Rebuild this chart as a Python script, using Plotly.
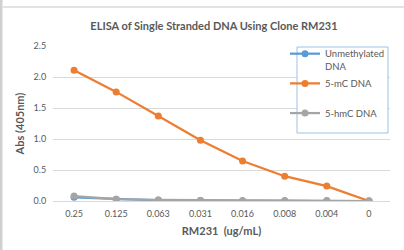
import plotly.graph_objects as go

categories = ["0.25", "0.125", "0.063", "0.031", "0.016", "0.008", "0.004", "0"]
unmethylated = [0.06, 0.03, 0.01, 0.01, 0.00, 0.00, 0.00, 0.00]
mc = [2.11, 1.76, 1.37, 0.98, 0.645, 0.40, 0.24, 0.00]
hmc = [0.08, 0.03, 0.02, 0.01, 0.01, 0.01, 0.01, 0.00]
y_ticks = [0.0, 0.5, 1.0, 1.5, 2.0, 2.5]
y_ticktext = ["0.0", "0.5", "1.0", "1.5", "2.0", "2.5"]

FONT = "Lato, 'Open Sans', sans-serif"
TXT = "#595959"

W, H = 404, 250
L, R, T, B = 53, 14, 46, 49
pw, ph = W - L - R, H - T - B

def px(x):
    return (x - L) / pw

def py(y):
    return (H - B - y) / ph

fig = go.Figure()
series = [
    ("Unmethylated<br>DNA", unmethylated, "#5B9BD5"),
    ("5-mC DNA<br>\u00a0", mc, "#ED7D31"),
    ("5-hmC DNA<br>\u00a0", hmc, "#A5A5A5"),
]
for i, (name, vals, col) in enumerate(series):
    fig.add_trace(go.Scatter(
        x=categories, y=vals, name=name, mode="lines+markers",
        line=dict(color=col, width=2.25),
        marker=dict(color=col, size=7),
        legendgroup=f"g{i}",
    ))

fig.update_layout(
    width=W, height=H,
    margin=dict(l=L, r=R, t=T, b=B),
    paper_bgcolor="white", plot_bgcolor="white",
    title=dict(text="<b>ELISA of Single Stranded DNA Using Clone RM231</b>",
               x=(214) / W, xanchor="center", y=1 - 26 / H, yanchor="middle",
               font=dict(family=FONT, size=11, color=TXT)),
    xaxis=dict(type="category", range=[-0.5, 7.5], showgrid=False,
               showline=False, zeroline=False,
               ticks="outside", ticklen=4, tickcolor="rgba(0,0,0,0)",
               tickfont=dict(family=FONT, size=9, color=TXT),
               title=dict(text="<b>RM231 \u00a0(ug/mL)</b>", standoff=9,
                          font=dict(family=FONT, size=11, color=TXT))),
    yaxis=dict(range=[0, 2.5], tickvals=y_ticks, ticktext=y_ticktext,
               showgrid=True, gridcolor="#d9d9d9", gridwidth=1,
               zeroline=True, zerolinecolor="#d9d9d9", zerolinewidth=1,
               showline=False,
               ticks="outside", ticklen=4, tickcolor="rgba(0,0,0,0)",
               tickfont=dict(family=FONT, size=9, color=TXT),
               title=dict(text="<b>Abs (405nm)</b>", standoff=6,
                          font=dict(family=FONT, size=11, color=TXT))),
    legend=dict(x=px(285), y=py(41), xanchor="left", yanchor="top",
                bgcolor="rgba(0,0,0,0)", borderwidth=0,
                font=dict(family=FONT, size=9.5, color=TXT),
                traceorder="grouped", tracegroupgap=2, valign="top"),
    shapes=[
        dict(type="rect", xref="paper", yref="paper",
             x0=px(297), x1=px(388), y0=py(133), y1=py(47),
             line=dict(color="#9dc3e6", width=1), fillcolor="white", layer="above"),
        dict(type="line", xref="paper", yref="paper",
             x0=px(3), x1=px(404), y0=py(7), y1=py(7),
             line=dict(color="#d9d9d9", width=1.5)),
        dict(type="rect", xref="paper", yref="paper",
             x0=px(0), x1=px(2.5), y0=py(250), y1=py(0),
             line=dict(width=0), fillcolor="#d0d0d0"),
    ],
)

fig.write_html("out.html", config={"displayModeBar": False},
               post_script="document.body.style.margin='0';")
